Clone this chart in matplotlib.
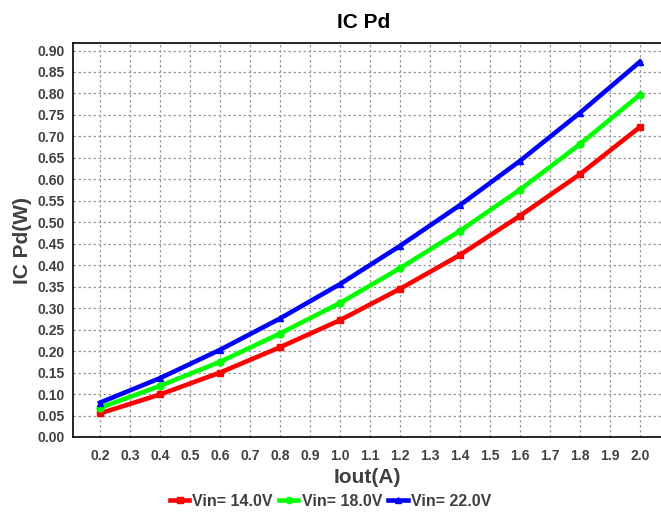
import matplotlib
matplotlib.use("Agg")
import matplotlib.pyplot as plt
import numpy as np

plt.rcParams['font.family'] = ['Liberation Sans', 'DejaVu Sans']

iout = [0.2, 0.4, 0.6, 0.8, 1.0, 1.2, 1.4, 1.6, 1.8, 2.0]
pd_14v = [0.055, 0.099, 0.150, 0.209, 0.272, 0.345, 0.424, 0.515, 0.612, 0.722]
pd_18v = [0.068, 0.119, 0.175, 0.241, 0.312, 0.393, 0.480, 0.576, 0.682, 0.797]
pd_22v = [0.080, 0.137, 0.203, 0.276, 0.356, 0.445, 0.540, 0.643, 0.755, 0.874]

xticks = [round(0.2 + 0.1 * i, 1) for i in range(19)]
yticks = [round(0.05 * i, 2) for i in range(19)]

grey = '#404040'

fig = plt.figure(figsize=(6.61, 5.12), dpi=100)
ax = fig.add_axes([73 / 661, 75 / 512, 1 - 73 / 661, (437 - 43) / 512])

ax.plot(iout, pd_14v, color='#ff0000', lw=3.3, marker='s', ms=5, label='Vin= 14.0V')
ax.plot(iout, pd_18v, color='#00ff00', lw=3.3, marker='o', ms=5, label='Vin= 18.0V')
ax.plot(iout, pd_22v, color='#0000ff', lw=3.3, marker='^', ms=5, label='Vin= 22.0V')

ax.set_xlim(0.11, 2.07)
ax.set_ylim(0, 0.9175)
ax.set_xticks(xticks)
ax.set_xticklabels([f'{v:.1f}' for v in xticks])
ax.set_yticks(yticks)
ax.set_yticklabels([f'{v:.2f}' for v in yticks])
ax.tick_params(length=0, labelsize=10, labelcolor=grey, pad=6)
for lab in ax.get_xticklabels() + ax.get_yticklabels():
    lab.set_fontweight('bold')
ax.tick_params(axis='x', pad=9)

ax.grid(True, color='#999999', linestyle=(0, (2, 2)), lw=0.9)
ax.set_axisbelow(True)
ax.spines['right'].set_visible(False)
for s in ['left', 'bottom', 'top']:
    ax.spines[s].set_color('black')
    ax.spines[s].set_linewidth(1.2)

ax.set_xlabel('Iout(A)', fontsize=15, fontweight='bold', color=grey, labelpad=3)
ax.set_ylabel('IC Pd(W)', fontsize=15, fontweight='bold', color=grey, labelpad=4)
fig.suptitle('IC Pd', fontsize=15, fontweight='bold', x=(73 + 661) / 2 / 661 - 0.005, y=0.975)

leg = fig.legend(loc='lower center', bbox_to_anchor=(0.5, -0.022), ncol=3, frameon=False,
                 handlelength=1.2, handletextpad=0.2, columnspacing=0.4,
                 prop={'weight': 'bold', 'size': 11.5}, markerscale=0.9)
for t in leg.get_texts():
    t.set_color(grey)

fig.savefig('out.png', dpi=100)
